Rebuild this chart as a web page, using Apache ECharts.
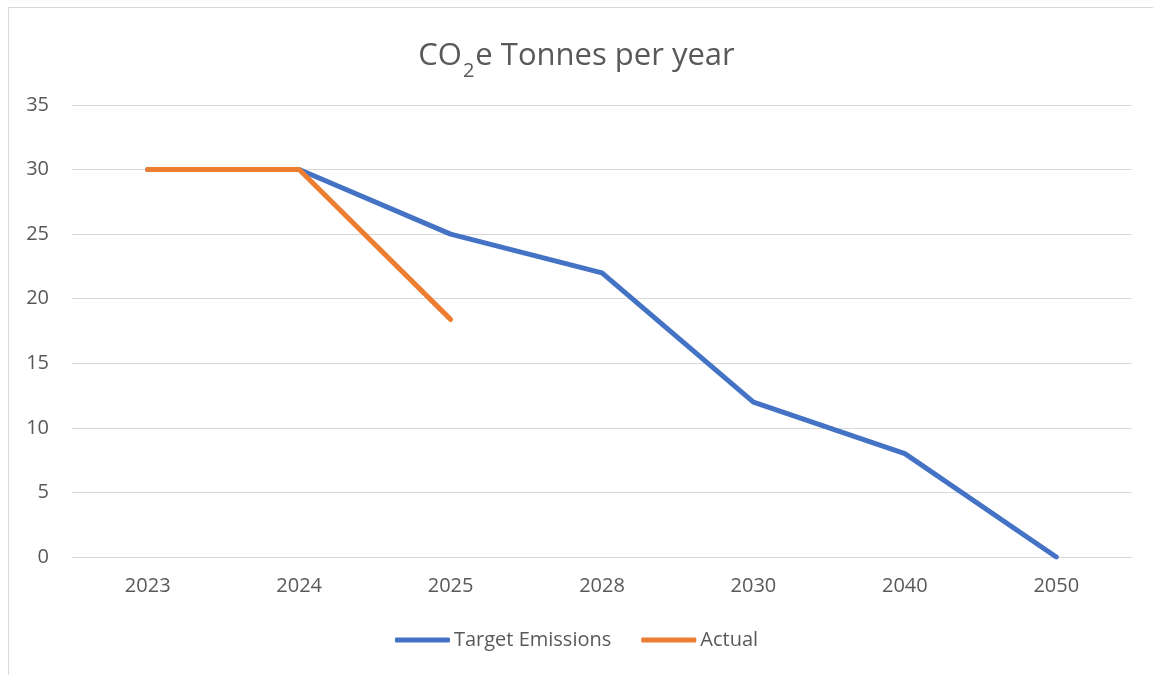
<!DOCTYPE html>
<html><head><meta charset="utf-8">
<script src="https://cdn.jsdelivr.net/npm/echarts@6/dist/echarts.min.js"></script>
<style>
html,body{margin:0;padding:0;background:#fff;overflow:hidden}
#frame{position:absolute;left:8px;top:7px;width:1200px;height:700px;border:1px solid #d9d9d9;box-sizing:border-box}
#chart{position:absolute;left:0;top:0;width:1153px;height:675px}
</style></head>
<body>
<div id="frame"></div>
<div id="chart"></div>
<script>
const categories = ['2023','2024','2025','2028','2030','2040','2050'];
const targetEmissions = [30,30,25,22,12,8,0];
const actual = [30,30,18.4,null,null,null,null];
const yTicks = {min:0,max:35,interval:5};

const chart = echarts.init(document.getElementById('chart'));
const font = '"Open Sans", "Liberation Sans", sans-serif';
chart.setOption({
  animation:false,
  title:{
    text:'{a|CO}{b|2}{a|e Tonnes per year}',
    left:'center', top:27,
    textStyle:{
      rich:{
        a:{fontFamily:font,fontSize:31,fontWeight:'normal',color:'#595959',verticalAlign:'bottom',lineHeight:40},
        b:{fontFamily:font,fontSize:20,fontWeight:'normal',color:'#595959',verticalAlign:'bottom',lineHeight:40,padding:[0,1,-9,1]}
      }
    }
  },
  grid:{left:72,right:21,top:105,bottom:118,containLabel:false},
  legend:{
    bottom:20,left:'center',
    itemWidth:55,itemHeight:5,itemGap:30,icon:'roundRect',
    textStyle:{fontFamily:font,fontSize:20,color:'#595959',padding:[0,0,0,-1]},
    data:['Target Emissions','Actual']
  },
  xAxis:{
    type:'category',data:categories,boundaryGap:true,
    axisLine:{show:true,lineStyle:{color:'#d9d9d9',width:1}},
    axisTick:{show:false},
    axisLabel:{fontFamily:font,fontSize:20,color:'#595959',margin:19}
  },
  yAxis:{
    type:'value',min:yTicks.min,max:yTicks.max,interval:yTicks.interval,
    axisLine:{show:false},axisTick:{show:false},
    splitLine:{lineStyle:{color:'#d9d9d9',width:1}},
    axisLabel:{fontFamily:font,fontSize:20,color:'#595959',margin:23}
  },
  series:[
    {name:'Target Emissions',type:'line',data:targetEmissions,symbol:'none',
     lineStyle:{color:'#4472C4',width:5,cap:'round',join:'round'},itemStyle:{color:'#4472C4'}},
    {name:'Actual',type:'line',data:actual,symbol:'none',
     lineStyle:{color:'#ED7D31',width:5,cap:'round',join:'round'},itemStyle:{color:'#ED7D31'}}
  ]
});
</script>
</body></html>
